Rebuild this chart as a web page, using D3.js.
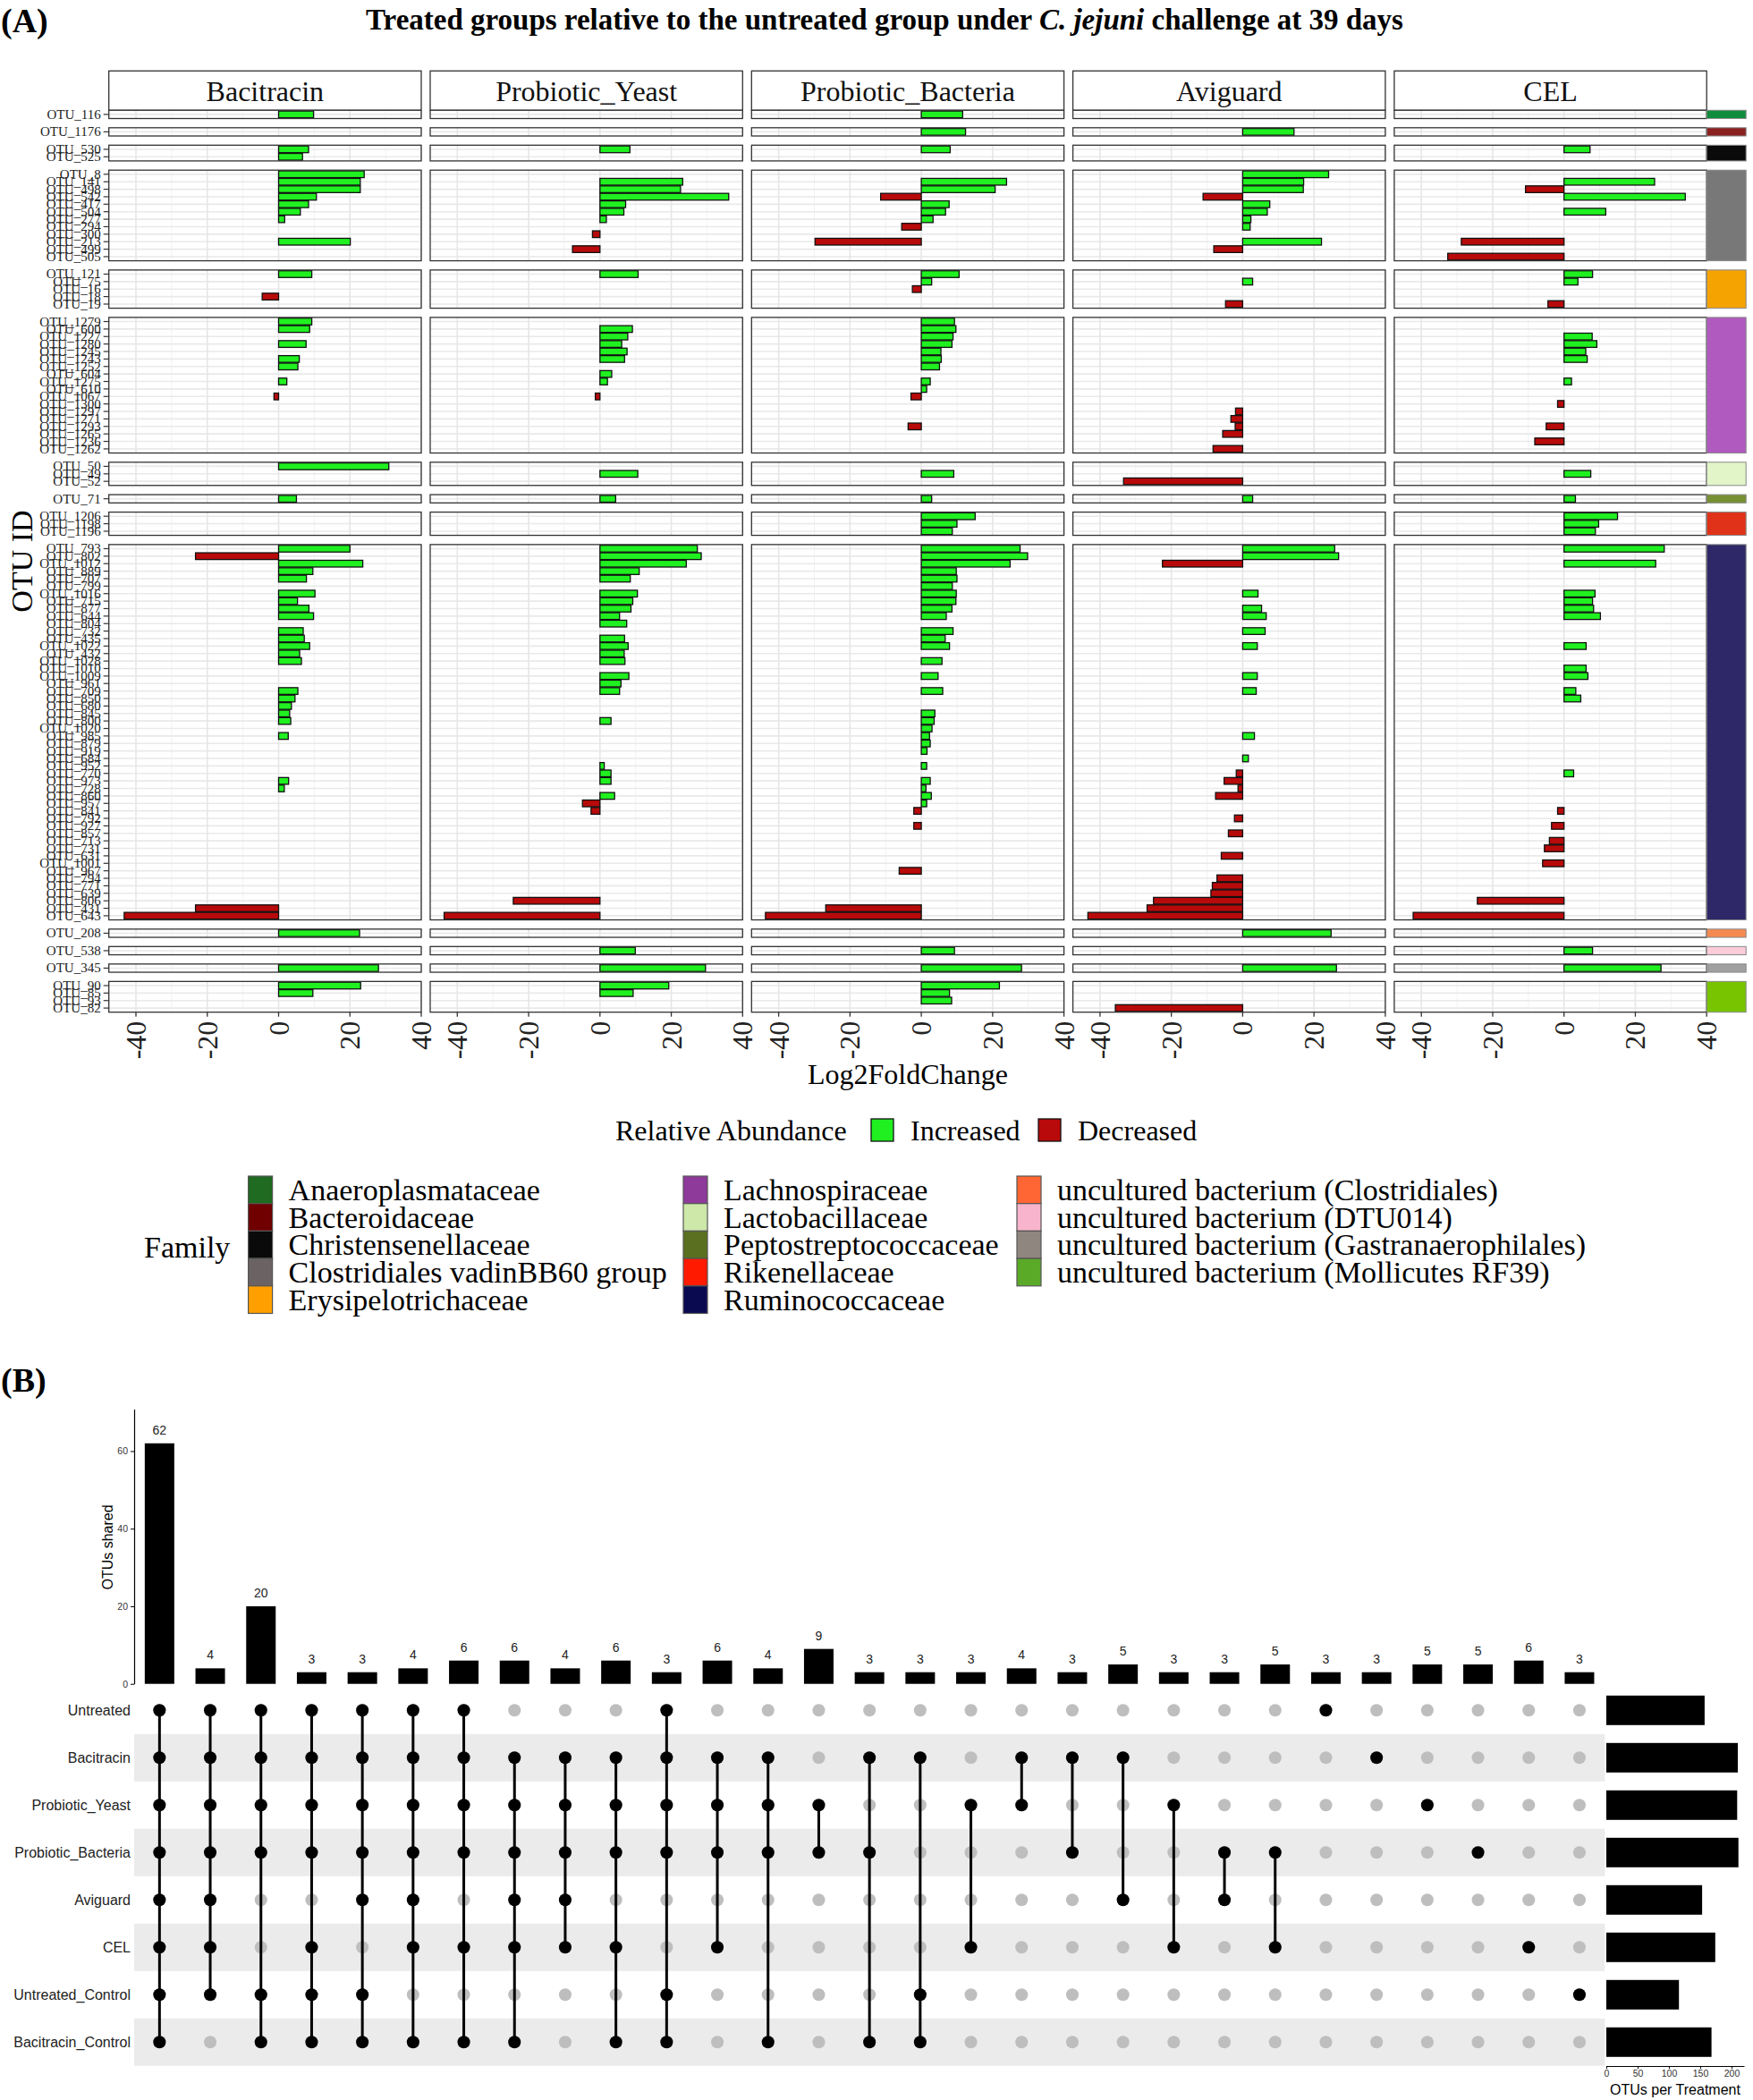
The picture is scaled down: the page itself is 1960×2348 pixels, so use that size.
<!DOCTYPE html>
<html><head><meta charset="utf-8">
<script src="https://cdn.jsdelivr.net/npm/d3@7"></script>
<style>body{margin:0;background:#fff}</style>
</head><body>
<script>
// ================= DATA : panel (A) =================
const treatments = ["Bacitracin","Probiotic_Yeast","Probiotic_Bacteria","Aviguard","CEL"];
const families = ["Anaeroplasmataceae","Bacteroidaceae","Christensenellaceae","Clostridiales vadinBB60 group","Erysipelotrichaceae","Lachnospiraceae","Lactobacillaceae","Peptostreptococcaceae","Rikenellaceae","Ruminococcaceae","uncultured bacterium (Clostridiales)","uncultured bacterium (DTU014)","uncultured bacterium (Gastranaerophilales)","uncultured bacterium (Mollicutes RF39)"];
const familyOTUs = [
  ["OTU_116"],
  ["OTU_1176"],
  ["OTU_530","OTU_525"],
  ["OTU_8","OTU_141","OTU_498","OTU_542","OTU_417","OTU_504","OTU_277","OTU_294","OTU_300","OTU_213","OTU_499","OTU_505"],
  ["OTU_121","OTU_75","OTU_16","OTU_18","OTU_19"],
  ["OTU_1279","OTU_600","OTU_1227","OTU_1280","OTU_1245","OTU_1243","OTU_1252","OTU_604","OTU_1275","OTU_610","OTU_1067","OTU_1300","OTU_1297","OTU_1271","OTU_1293","OTU_1265","OTU_1236","OTU_1262"],
  ["OTU_50","OTU_49","OTU_52"],
  ["OTU_71"],
  ["OTU_1206","OTU_1198","OTU_1196"],
  ["OTU_793","OTU_802","OTU_1012","OTU_889","OTU_707","OTU_799","OTU_1016","OTU_715","OTU_877","OTU_644","OTU_804","OTU_732","OTU_435","OTU_1022","OTU_432","OTU_1028","OTU_1010","OTU_1009","OTU_961","OTU_709","OTU_850","OTU_680","OTU_845","OTU_800","OTU_1020","OTU_985","OTU_879","OTU_919","OTU_684","OTU_952","OTU_770","OTU_973","OTU_728","OTU_860","OTU_957","OTU_841","OTU_792","OTU_927","OTU_857","OTU_713","OTU_731","OTU_631","OTU_1001","OTU_967","OTU_794","OTU_771","OTU_639","OTU_806","OTU_431","OTU_643"],
  ["OTU_208"],
  ["OTU_538"],
  ["OTU_345"],
  ["OTU_90","OTU_85","OTU_93","OTU_82"]
];
// Log2FoldChange per treatment (OTU, value); OTUs not listed have no bar
const lfcBacitracin = [["OTU_116",9.8],["OTU_530",8.4],["OTU_525",6.7],["OTU_8",24.0],["OTU_141",22.9],["OTU_498",22.9],["OTU_542",10.6],["OTU_417",8.4],["OTU_504",6.1],["OTU_277",1.7],["OTU_213",20.1],["OTU_121",9.3],["OTU_18",-4.6],["OTU_1279",9.3],["OTU_600",8.7],["OTU_1280",7.7],["OTU_1243",5.8],["OTU_1252",5.4],["OTU_1275",2.3],["OTU_1067",-1.3],["OTU_50",30.9],["OTU_71",5.0],["OTU_793",20.0],["OTU_802",-23.3],["OTU_1012",23.6],["OTU_889",9.6],["OTU_707",7.8],["OTU_1016",10.2],["OTU_715",5.3],["OTU_877",8.5],["OTU_644",9.8],["OTU_732",6.9],["OTU_435",7.2],["OTU_1022",8.7],["OTU_432",5.9],["OTU_1028",6.4],["OTU_709",5.4],["OTU_850",4.6],["OTU_680",3.6],["OTU_845",3.1],["OTU_800",3.4],["OTU_985",2.7],["OTU_973",2.8],["OTU_728",1.6],["OTU_431",-23.3],["OTU_643",-43.3],["OTU_208",22.7],["OTU_345",28.0],["OTU_90",23.0],["OTU_85",9.6]];
const lfcProbioticYeast = [["OTU_530",8.4],["OTU_141",23.2],["OTU_498",22.6],["OTU_542",36.1],["OTU_417",7.2],["OTU_504",6.7],["OTU_277",1.8],["OTU_300",-2.1],["OTU_499",-7.7],["OTU_121",10.7],["OTU_600",9.1],["OTU_1227",7.8],["OTU_1280",6.1],["OTU_1245",7.6],["OTU_1243",6.9],["OTU_604",3.3],["OTU_1275",2.1],["OTU_1067",-1.3],["OTU_49",10.6],["OTU_71",4.4],["OTU_793",27.3],["OTU_802",28.4],["OTU_1012",24.2],["OTU_889",11.0],["OTU_707",8.5],["OTU_1016",10.5],["OTU_715",9.2],["OTU_877",8.7],["OTU_644",5.5],["OTU_804",7.5],["OTU_435",6.9],["OTU_1022",7.9],["OTU_432",6.8],["OTU_1028",7.0],["OTU_1009",8.1],["OTU_961",5.9],["OTU_709",5.5],["OTU_800",3.1],["OTU_952",1.2],["OTU_770",3.1],["OTU_973",3.1],["OTU_860",4.1],["OTU_957",-4.9],["OTU_841",-2.5],["OTU_806",-24.3],["OTU_643",-43.7],["OTU_538",9.9],["OTU_345",29.6],["OTU_90",19.3],["OTU_85",9.3]];
const lfcProbioticBacteria = [["OTU_116",11.6],["OTU_1176",12.4],["OTU_530",8.1],["OTU_141",23.9],["OTU_498",20.7],["OTU_542",-11.4],["OTU_417",7.8],["OTU_504",6.8],["OTU_277",3.3],["OTU_294",-5.5],["OTU_213",-29.8],["OTU_121",10.6],["OTU_75",2.9],["OTU_16",-2.5],["OTU_1279",9.3],["OTU_600",9.7],["OTU_1227",8.9],["OTU_1280",8.6],["OTU_1245",5.5],["OTU_1243",5.6],["OTU_1252",5.1],["OTU_1275",2.5],["OTU_610",1.5],["OTU_1067",-2.9],["OTU_1293",-3.7],["OTU_49",9.1],["OTU_71",2.9],["OTU_1206",15.1],["OTU_1198",10.0],["OTU_1196",8.7],["OTU_793",27.7],["OTU_802",29.8],["OTU_1012",24.9],["OTU_889",9.8],["OTU_707",10.0],["OTU_799",8.7],["OTU_1016",9.8],["OTU_715",9.7],["OTU_877",8.6],["OTU_644",7.0],["OTU_732",8.9],["OTU_435",6.7],["OTU_1022",7.9],["OTU_1028",5.8],["OTU_1009",4.7],["OTU_709",6.0],["OTU_845",3.8],["OTU_800",3.6],["OTU_1020",3.0],["OTU_985",2.3],["OTU_879",2.5],["OTU_919",1.6],["OTU_952",1.5],["OTU_973",2.5],["OTU_728",1.3],["OTU_860",2.8],["OTU_957",1.5],["OTU_841",-2.1],["OTU_927",-2.1],["OTU_967",-6.2],["OTU_431",-26.8],["OTU_643",-43.7],["OTU_538",9.3],["OTU_345",28.1],["OTU_90",21.9],["OTU_85",7.9],["OTU_93",8.5]];
const lfcAviguard = [["OTU_1176",14.4],["OTU_8",24.1],["OTU_141",17.1],["OTU_498",17.0],["OTU_542",-11.1],["OTU_417",7.6],["OTU_504",6.9],["OTU_277",2.3],["OTU_294",2.1],["OTU_213",22.1],["OTU_499",-8.1],["OTU_75",2.8],["OTU_19",-4.8],["OTU_1297",-2.0],["OTU_1271",-3.3],["OTU_1293",-2.1],["OTU_1265",-5.6],["OTU_1262",-8.3],["OTU_52",-33.4],["OTU_71",2.8],["OTU_793",25.8],["OTU_802",26.9],["OTU_1012",-22.5],["OTU_1016",4.3],["OTU_877",5.3],["OTU_644",6.6],["OTU_732",6.3],["OTU_1022",4.1],["OTU_1009",4.1],["OTU_709",3.8],["OTU_985",3.3],["OTU_684",1.6],["OTU_770",-1.8],["OTU_973",-5.2],["OTU_728",-1.3],["OTU_860",-7.6],["OTU_792",-2.3],["OTU_857",-4.0],["OTU_631",-6.0],["OTU_794",-7.2],["OTU_771",-8.5],["OTU_639",-8.9],["OTU_806",-25.0],["OTU_431",-26.8],["OTU_643",-43.4],["OTU_208",24.8],["OTU_345",26.3],["OTU_82",-35.7]];
const lfcCEL = [["OTU_530",7.3],["OTU_141",25.4],["OTU_498",-10.8],["OTU_542",34.0],["OTU_504",11.7],["OTU_213",-28.8],["OTU_505",-32.6],["OTU_121",8.0],["OTU_75",3.9],["OTU_19",-4.5],["OTU_1227",7.9],["OTU_1280",9.2],["OTU_1245",6.1],["OTU_1243",6.5],["OTU_1275",2.1],["OTU_1300",-1.8],["OTU_1293",-5.0],["OTU_1236",-8.2],["OTU_49",7.5],["OTU_71",3.2],["OTU_1206",15.0],["OTU_1198",9.7],["OTU_1196",8.8],["OTU_793",28.1],["OTU_1012",25.7],["OTU_1016",8.7],["OTU_715",8.0],["OTU_877",8.3],["OTU_644",10.2],["OTU_1022",6.2],["OTU_1010",6.2],["OTU_1009",6.7],["OTU_709",3.3],["OTU_850",4.7],["OTU_770",2.7],["OTU_841",-1.8],["OTU_927",-3.5],["OTU_713",-4.1],["OTU_731",-5.5],["OTU_1001",-6.0],["OTU_806",-24.3],["OTU_643",-42.3],["OTU_538",8.0],["OTU_345",27.2]];
const lfcByTreatment = [lfcBacitracin, lfcProbioticYeast, lfcProbioticBacteria, lfcAviguard, lfcCEL];
const xTicksA = [-40,-20,0,20,40];
const xMinorA = [-30,-10,10,30];
const abundanceLabels = ["Increased","Decreased"];
const titleParts = ["Treated groups relative to the untreated group under ","C. jejuni"," challenge at 39 days"];

// ================= DATA : panel (B) =================
const upsetSets = ["Untreated","Bacitracin","Probiotic_Yeast","Probiotic_Bacteria","Aviguard","CEL","Untreated_Control","Bacitracin_Control"];
const setSizes = [157,210,209,211,153,174,116,168];
const intersectionCounts = [62,4,20,3,3,4,6,6,4,6,3,6,4,9,3,3,3,4,3,5,3,3,5,3,3,5,5,6,3];
const intersectionMembers = [
  [0,1,2,3,4,5,6,7],[0,1,2,3,4,5,6],[0,1,2,3,6,7],[0,1,2,3,5,6,7],[0,1,2,3,4,6,7],[0,1,2,3,4,5,7],[0,1,2,3,5,7],
  [1,2,3,4,5,7],[1,2,3,4,5],[1,2,3,5,7],[0,1,2,3,6,7],[1,2,3,5],[1,2,3,7],[2,3],[1,3,7],[1,6,7],[2,5],[1,2],[1,3],[1,4],[2,5],[3,4],[3,5],[0],[1],[2],[3],[5],[6]
];
const sizeTicks = [0,50,100,150,200];
const sharedTicks = [0,20,40,60];

// ================= STYLE =================
const stripColors = ["#0f8c3c","#8b2020","#0a0a0a","#787878","#f5a300","#b05abf","#e2f5c8","#779033","#e03218","#2e2868","#f58a50","#fcccd8","#a0a0a0","#78c400"];
const legendColors = ["#1e6b21","#700000","#0a0a0a","#6b6363","#ffa000","#8e3a9a","#cde8a8","#5a7020","#ff1a00","#0a0a50","#ff6633","#f8b4cc","#8f8680","#5aaa28"];
const GREEN = "#20f020", RED = "#b80a0a";
const SERIF = "'Liberation Serif','Times New Roman',serif";
const SANS = "'Liberation Sans',Arial,Helvetica,sans-serif";

const W = 1960, H = 2348;
const svg = d3.select("body").append("svg").attr("width", W).attr("height", H).style("font-family", SERIF);
svg.append("rect").attr("width", W).attr("height", H).attr("fill", "#fff");

// ---------- title ----------
svg.append("text").attr("x", 1).attr("y", 36).attr("font-weight", "bold").attr("font-size", 38).text("(A)");
const tt = svg.append("text").attr("x", 989).attr("y", 33).attr("text-anchor", "middle").attr("font-weight", "bold").attr("font-size", 33);
tt.append("tspan").text(titleParts[0]);
tt.append("tspan").attr("font-style", "italic").text(titleParts[1]);
tt.append("tspan").text(titleParts[2]);

// ---------- panel A geometry ----------
const PA = {top: 123.3, bottom: 1131.7, gap: 10.3, left0: 121.7, colStep: 359.3, width: 349.3, stripTop: 79.3, stripH: 44, famX: 1908.2, famW: 44};
const u = (PA.bottom - PA.top - PA.gap * (families.length - 1)) / d3.sum(familyOTUs, d => d.length + 0.1);
let cursor = PA.top;
const famPanels = familyOTUs.map((otus, i) => {
  const h = (otus.length + 0.1) * u;
  const p = {i, top: cursor, h, y: d3.scalePoint().domain(otus).range([cursor, cursor + h]).padding(0.55)};
  cursor += h + PA.gap;
  return p;
});
const otuPanel = new Map();
famPanels.forEach(p => familyOTUs[p.i].forEach(o => otuPanel.set(o, p)));

const gA = svg.append("g");
treatments.forEach((t, ti) => {
  const left = PA.left0 + ti * PA.colStep;
  const xs = d3.scaleLinear().domain([-47.6, 40]).range([left, left + PA.width]);
  const g = gA.append("g");
  // strip
  g.append("rect").attr("x", left).attr("y", PA.stripTop).attr("width", PA.width).attr("height", PA.stripH)
    .attr("fill", "#fff").attr("stroke", "#333").attr("stroke-width", 1.3);
  g.append("text").attr("x", left + PA.width / 2).attr("y", PA.stripTop + PA.stripH / 2 + 1)
    .attr("text-anchor", "middle").attr("dominant-baseline", "central").attr("font-size", 32).attr("fill", "#111").text(t);
  famPanels.forEach(p => {
    const pg = g.append("g");
    pg.append("rect").attr("x", left).attr("y", p.top).attr("width", PA.width).attr("height", p.h).attr("fill", "#fff");
    pg.selectAll(".mn").data(xMinorA).join("line").attr("x1", d => xs(d)).attr("x2", d => xs(d))
      .attr("y1", p.top).attr("y2", p.top + p.h).attr("stroke", "#f2f2f2").attr("stroke-width", 1);
    pg.selectAll(".hz").data(familyOTUs[p.i]).join("line").attr("x1", left).attr("x2", left + PA.width)
      .attr("y1", d => p.y(d)).attr("y2", d => p.y(d)).attr("stroke", "#e9e9e9").attr("stroke-width", 1.6);
    pg.selectAll(".mj").data(xTicksA).join("line").attr("x1", d => xs(d)).attr("x2", d => xs(d))
      .attr("y1", p.top).attr("y2", p.top + p.h).attr("stroke", "#e6e6e6").attr("stroke-width", 1.6);
  });
  // bars
  const data = lfcByTreatment[ti];
  g.selectAll(".bar").data(data).join("rect")
    .attr("x", d => Math.min(xs(0), xs(d[1])))
    .attr("width", d => Math.abs(xs(d[1]) - xs(0)))
    .attr("y", d => otuPanel.get(d[0]).y(d[0]) - 0.45 * u)
    .attr("height", 0.9 * u)
    .attr("fill", d => d[1] > 0 ? GREEN : RED)
    .attr("stroke", "#111").attr("stroke-width", 1.3);
  // panel borders
  famPanels.forEach(p => {
    g.append("rect").attr("x", left).attr("y", p.top).attr("width", PA.width).attr("height", p.h)
      .attr("fill", "none").attr("stroke", "#333").attr("stroke-width", 1.3);
  });
  // x axis (bottom)
  g.selectAll(".xt").data(xTicksA).join("line").attr("x1", d => xs(d)).attr("x2", d => xs(d))
    .attr("y1", PA.bottom).attr("y2", PA.bottom + 5).attr("stroke", "#333").attr("stroke-width", 1.3);
  g.selectAll(".xl").data(xTicksA).join("text")
    .attr("transform", d => `translate(${xs(d)},${PA.bottom + 10}) rotate(-90)`)
    .attr("text-anchor", "end").attr("dominant-baseline", "central").attr("font-size", 32).attr("fill", "#222")
    .text(d => d);
  // y axis on first column
  if (ti === 0) {
    famPanels.forEach(p => {
      const otus = familyOTUs[p.i];
      g.selectAll(null).data(otus).join("line").attr("x1", left - 6).attr("x2", left)
        .attr("y1", d => p.y(d)).attr("y2", d => p.y(d)).attr("stroke", "#333").attr("stroke-width", 1.2);
      g.selectAll(null).data(otus).join("text").attr("x", left - 9).attr("y", d => p.y(d))
        .attr("text-anchor", "end").attr("dominant-baseline", "central").attr("font-size", 15).attr("fill", "#222")
        .text(d => d);
    });
  }
});
// family colour strip on the right
famPanels.forEach(p => {
  gA.append("rect").attr("x", PA.famX).attr("y", p.top).attr("width", PA.famW).attr("height", p.h)
    .attr("fill", stripColors[p.i]).attr("stroke", "#888").attr("stroke-width", 1);
});
// axis titles
svg.append("text").attr("transform", `translate(24,${(PA.top + PA.bottom) / 2}) rotate(-90)`)
  .attr("text-anchor", "middle").attr("dominant-baseline", "central").attr("font-size", 34).text("OTU ID");
svg.append("text").attr("x", (PA.left0 + PA.famX) / 2).attr("y", 1201).attr("text-anchor", "middle")
  .attr("dominant-baseline", "central").attr("font-size", 32).text("Log2FoldChange");

// ---------- legends ----------
const lg = svg.append("g");
lg.append("text").attr("x", 688).attr("y", 1264).attr("dominant-baseline", "central").attr("font-size", 32).text("Relative Abundance");
[[974, GREEN], [1161, RED]].forEach((k, i) => {
  lg.append("rect").attr("x", k[0]).attr("y", 1251).attr("width", 25).attr("height", 25).attr("fill", k[1]).attr("stroke", "#111").attr("stroke-width", 1.3);
  lg.append("text").attr("x", k[0] + 44).attr("y", 1264).attr("dominant-baseline", "central").attr("font-size", 32).text(abundanceLabels[i]);
});
lg.append("text").attr("x", 161).attr("y", 1394).attr("dominant-baseline", "central").attr("font-size", 34).text("Family");
const famCols = [{kx: 277.6, n: [0, 5]}, {kx: 764, n: [5, 10]}, {kx: 1137, n: [10, 14]}];
const keyH = 30.7;
famCols.forEach(c => {
  d3.range(c.n[0], c.n[1]).forEach((fi, r) => {
    const y = 1315 + r * keyH;
    lg.append("rect").attr("x", c.kx).attr("y", y).attr("width", 27).attr("height", keyH)
      .attr("fill", legendColors[fi]).attr("stroke", "#555").attr("stroke-width", 1.2);
    lg.append("text").attr("x", c.kx + 45).attr("y", y + keyH / 2).attr("dominant-baseline", "central")
      .attr("font-size", 34).text(families[fi]);
  });
});

// ================= panel B =================
svg.append("text").attr("x", 1).attr("y", 1556).attr("font-weight", "bold").attr("font-size", 38).text("(B)");
const gB = svg.append("g").style("font-family", SANS);
const xB = d3.scaleBand().domain(d3.range(intersectionCounts.length)).range([150, 1794.3]).paddingInner(0.418).paddingOuter(0.209);
const yTop = d3.scaleLinear().domain([0, 70.8]).range([1882.7, 1575.6]);
const yRow = d3.scaleBand().domain(upsetSets).range([1885.8, 2309.8]);
const xSize = d3.scaleLinear().domain([0, 220]).range([1796, 1950]);

// bars
gB.selectAll(".ib").data(intersectionCounts).join("rect")
  .attr("x", (d, i) => xB(i)).attr("width", xB.bandwidth())
  .attr("y", d => yTop(d)).attr("height", d => yTop(0) - yTop(d)).attr("fill", "#000");
gB.selectAll(".il").data(intersectionCounts).join("text")
  .attr("x", (d, i) => xB(i) + xB.bandwidth() / 2).attr("y", d => yTop(d) - 10)
  .attr("text-anchor", "middle").attr("font-size", 14).attr("fill", "#222").text(d => d);
// y axis
const ya = gB.append("g").attr("transform", "translate(150,0)")
  .call(d3.axisLeft(yTop).tickValues(sharedTicks).tickSize(4).tickSizeOuter(0));
ya.select(".domain").attr("stroke", "#000").attr("stroke-width", 1.2);
ya.selectAll(".tick line").attr("stroke", "#000");
ya.selectAll("text").attr("font-size", 10.5).attr("font-family", SANS).attr("fill", "#333");
gB.append("text").attr("transform", `translate(120,1730) rotate(-90)`).attr("text-anchor", "middle")
  .attr("dominant-baseline", "central").attr("font-size", 16).text("OTUs shared");

// matrix shading
gB.selectAll(".sh").data(upsetSets.filter((d, i) => i % 2 === 1)).join("rect")
  .attr("x", 150).attr("width", 1794.3 - 150).attr("y", d => yRow(d)).attr("height", yRow.bandwidth()).attr("fill", "#ebebeb");
// row labels
gB.selectAll(".rl").data(upsetSets).join("text").attr("x", 146).attr("y", d => yRow(d) + yRow.bandwidth() / 2)
  .attr("text-anchor", "end").attr("dominant-baseline", "central").attr("font-size", 16).attr("fill", "#222").text(d => d);
// dots
const cy = s => yRow(upsetSets[s]) + yRow.bandwidth() / 2;
intersectionCounts.forEach((c, i) => {
  const cx = xB(i) + xB.bandwidth() / 2;
  gB.selectAll(null).data(d3.range(upsetSets.length)).join("circle")
    .attr("cx", cx).attr("cy", s => cy(s)).attr("r", 7).attr("fill", "#bebebe");
  const mem = intersectionMembers[i];
  if (mem.length > 1) {
    gB.append("line").attr("x1", cx).attr("x2", cx).attr("y1", cy(d3.min(mem))).attr("y2", cy(d3.max(mem)))
      .attr("stroke", "#000").attr("stroke-width", 3);
  }
  gB.selectAll(null).data(mem).join("circle").attr("cx", cx).attr("cy", s => cy(s)).attr("r", 7).attr("fill", "#000");
});
// set size bars
gB.selectAll(".sb").data(setSizes).join("rect")
  .attr("x", xSize(0)).attr("width", d => xSize(d) - xSize(0))
  .attr("y", (d, i) => yRow(upsetSets[i]) + yRow.bandwidth() / 2 - 16.5).attr("height", 33).attr("fill", "#000");
const sa = gB.append("g").attr("transform", "translate(0,2310)")
  .call(d3.axisBottom(xSize).tickValues(sizeTicks).tickSize(3).tickSizeOuter(0));
sa.select(".domain").attr("stroke", "#000");
sa.selectAll("text").attr("font-size", 10.5).attr("font-family", SANS).attr("fill", "#333").attr("dy", "0.6em");
gB.append("text").attr("x", 1873).attr("y", 2336).attr("text-anchor", "middle").attr("dominant-baseline", "central")
  .attr("font-size", 16).text("OTUs per Treatment");
</script>
</body></html>
